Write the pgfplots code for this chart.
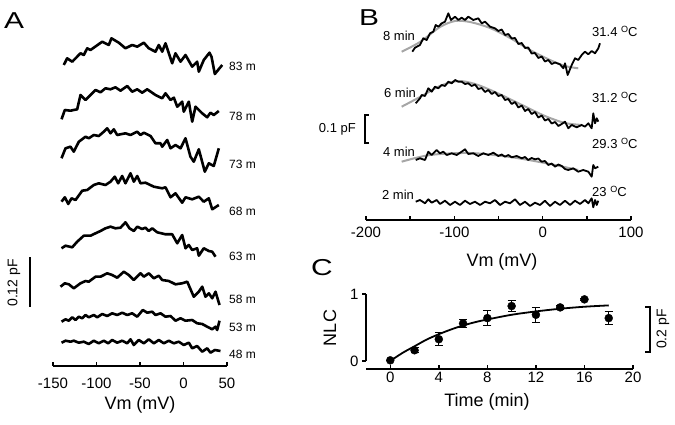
\documentclass[border=0pt]{standalone}
\usepackage{pgfplots}
\pgfplotsset{compat=1.18}
\usepackage{fontspec}
\setmainfont{Liberation Sans}
\newcommand{\fs}[1]{\fontsize{#1bp}{#1bp}\selectfont}
\newcommand{\degC}{{\fs{9}\raisebox{4bp}{O}}C}
\begin{document}
\begin{tikzpicture}
\path[use as bounding box] (0bp,0bp) rectangle (675bp,425bp);
\pgfplotsset{
  tr/.style={black, line width=2.6bp, line join=round, no marks},
  trb/.style={black, line width=1.8bp, line join=round, no marks},
  fit/.style={gray!70, line width=2bp, smooth, no marks},
}
% ---------------- Panel A ----------------
\begin{axis}[
  at={(53bp,59bp)}, anchor=south west, width=174bp, height=335bp, scale only axis,
  xmin=-150, xmax=50, ymin=0, ymax=335,
  axis x line=bottom, axis y line=none,
  axis line style={-, line width=1.6bp},
  xtick={-150,-100,-50,0,50}, xticklabels={-150,-100,-50,0,50},
  ytick=\empty,
  tick align=inside, major tick length=4bp,
  tick style={line width=1.6bp, black},
  xticklabel style={font=\fs{15}, yshift=-9bp},
  clip=false,
]
\addplot[tr] coordinates {(-137.6,301) (-133.7,307.7) (-127.9,304.3) (-118.4,312.7) (-114.6,311) (-110.7,317.7) (-106.9,316) (-93.4,324.3) (-85.9,321) (-82.8,327.7) (-74.4,323.3) (-66.7,317.7) (-59,321) (-53.2,319.3) (-45.6,323.3) (-39.9,317.7) (-32.2,314.3) (-28.4,321) (-24.5,314.3) (-20.7,322.7) (-13,302.7) (-9.2,312.7) (-3.4,304.3) (2.3,311) (10,299.3) (15.7,304.3) (17.6,294.3) (23.3,306) (29.9,313.3) (32.2,309.3) (36,292) (44.5,301)};
\addplot[tr] coordinates {(-140.2,246.7) (-136.4,256) (-129.9,255.3) (-122.2,256.7) (-118.4,271) (-112.6,266) (-101.1,276) (-95.4,273.7) (-89.7,277.7) (-83.9,276.7) (-78.2,278.7) (-72.4,275.3) (-64.7,280) (-59,274.3) (-53.2,276.7) (-47.5,273.3) (-41.7,276.7) (-32.2,271) (-24.5,267.7) (-20.7,272.7) (-14.9,266) (-11.1,268.3) (-7.2,259.3) (-1.5,264.3) (0.3,254.3) (6.1,264.3) (10,244.3) (13.8,259.3) (21.5,252.7) (27.2,248.7) (31,253.3) (34.8,251) (40.6,255)};
\addplot[tr] coordinates {(-140.2,207.7) (-135.6,217.7) (-129.9,219.3) (-126.1,214.3) (-120.3,224.3) (-112.6,229.3) (-108.9,227.7) (-103.1,231) (-97.4,230) (-91.6,234.3) (-87.7,237.7) (-83.9,232.7) (-80.1,236.7) (-76.2,231) (-66.7,232.7) (-60.9,231) (-53.2,234.3) (-49.4,231) (-45.6,233.3) (-37.9,230) (-32.2,222.7) (-26.4,222.7) (-24.5,219.3) (-18.7,226) (-14.9,217.7) (-9.2,221) (-3.4,217.7) (2.3,227.7) (8,209.3) (11.8,204.3) (17.6,216.7) (24.5,194.3) (29.1,202.7) (34.8,200) (40.6,217.7)};
\addplot[tr] coordinates {(-140.2,164.3) (-136.4,168.7) (-132.5,162) (-128.7,167.7) (-124.1,166) (-116.4,175.3) (-110.7,176) (-103.1,181) (-97.4,182.7) (-89.7,181) (-83.9,184.3) (-79,189.3) (-75.1,182.7) (-70.5,190) (-66.7,182.7) (-60.9,192.7) (-57.1,184.3) (-53.2,190) (-49.4,182.7) (-43.7,183.3) (-34.1,179.3) (-24.5,177.7) (-20.7,178.7) (-14.9,168.7) (-9.2,172.7) (-1.5,163.3) (2.3,168.7) (10,166.7) (17.6,169.3) (23.3,164.3) (29.1,167.7) (33,156.7) (40.6,161)};
\addplot[tr] coordinates {(-140.2,117.7) (-135.6,120.3) (-127.9,118.7) (-122.2,124.3) (-114.6,130.3) (-106.9,130.3) (-101.1,132.7) (-95.4,135) (-89.7,137.7) (-83.9,139.3) (-78.2,137.7) (-72.4,138.3) (-66.7,143.7) (-62.1,137.7) (-57.1,135) (-53.2,139.3) (-47.5,137) (-43.7,138.3) (-39.9,135) (-36,137.7) (-30.2,133.7) (-20.7,131.7) (-13,131.7) (-7.2,122.7) (-1.5,131) (2.3,117.7) (6.1,121) (10,116) (15.7,117.7) (17.6,110.3) (23.3,117.7) (29.1,115) (33,114.3) (36.8,109.3)};
\addplot[tr] coordinates {(-141.4,79.3) (-136.4,82.7) (-131.8,81.7) (-126.1,77.7) (-118.4,82.7) (-112.6,85) (-108.9,84.3) (-101.1,89.3) (-95.4,89.3) (-87.7,92.7) (-82,91) (-76.2,88.3) (-68.6,94.3) (-62.9,91) (-57.1,86) (-49.4,92.7) (-45.6,89.3) (-39.9,92.7) (-34.1,87.7) (-28.4,90.3) (-24.5,86) (-16.9,85) (-9.2,81.7) (-1.5,82.7) (4.3,84.3) (11.8,69.3) (17.6,74.3) (21.5,79.3) (25.3,69.3) (29.1,72.7) (33,67.7) (36.8,74.3) (41.4,61)};
\addplot[tr] coordinates {(-140.2,44.3) (-135.6,46.7) (-131.8,45.3) (-127.9,48.7) (-124.1,46) (-120.3,49.3) (-116.4,47.7) (-112.6,51) (-108.9,48.7) (-103.1,51) (-99.2,48.7) (-93.4,52) (-87.7,50) (-82,52.7) (-76.2,51) (-70.5,53.3) (-64.7,51) (-59,52.7) (-53.2,49.3) (-46.8,56) (-41.7,53.3) (-36,54.3) (-32.2,51) (-26.4,52.7) (-20.7,49.3) (-14.9,50) (-9.2,45.3) (-3.4,47.7) (2.3,45.3) (10,46) (15.7,42.7) (21.5,42) (27.2,39.3) (33,36.7) (36.8,39.3) (38.7,36) (41.4,45.3)};
\addplot[tr] coordinates {(-140.2,23.3) (-135.6,25.3) (-129.9,24.3) (-126.1,25.3) (-120.3,23.3) (-114.6,24.3) (-108.9,22) (-103.1,25.3) (-97.4,22.7) (-91.6,25.3) (-86.6,22.7) (-82,26) (-76.2,23.3) (-70.5,25.3) (-64.7,22.7) (-60.9,26.7) (-57.1,21) (-51.4,26) (-45.6,22.7) (-39.9,26.7) (-34.1,22.7) (-28.4,26) (-22.6,22.7) (-16.9,25.3) (-11.1,22.7) (-5.4,24.3) (0.3,21) (6.1,23.3) (10,17.7) (15.7,20) (21.5,14.3) (27.2,17.7) (31,13.3) (36,16) (42.5,15)};
\end{axis}
% ---------------- Panel B ----------------
\begin{axis}[
  at={(366bp,205bp)}, anchor=south west, width=265bp, height=210bp, scale only axis,
  xmin=-200, xmax=100, ymin=0, ymax=210,
  axis x line=bottom, axis y line=none,
  axis line style={-, line width=1.5bp},
  xtick={-200,-100,0,100}, xticklabels={-200,-100,0,100},
  minor xtick={-150,-50,50},
  ytick=\empty,
  tick align=inside, major tick length=4bp, minor tick length=4bp,
  tick style={line width=1.5bp, black},
  xticklabel style={font=\fs{15}, yshift=-4bp},
  clip=false,
]
\addplot[fit] coordinates {(-159.6,168.3) (-138.9,178) (-116.2,193) (-99.2,199) (-82.2,198) (-59.6,192) (-36.9,182) (-14.3,170) (8.3,160) (25.3,154) (40.3,151.7)};
\addplot[fit] coordinates {(-159.6,113.3) (-138.9,123) (-116.2,134) (-95.8,139) (-76.6,136) (-54,128) (-25.7,116) (2.6,104) (25.3,97) (44.5,95)};
\addplot[fit] coordinates {(-159.6,58.3) (-127.5,65) (-82.3,67) (-37,63) (2.6,57) (40.3,50)};
\addplot[trb] coordinates {(-147.6,168.3) (-144.5,172.3) (-138.9,175) (-135.1,181.7) (-131.3,180) (-127.5,186.7) (-123.8,188.3) (-121.1,195) (-118.1,193.3) (-114.3,196.7) (-110.6,198.3) (-106.8,206.7) (-103.8,200) (-99.2,203.3) (-95.5,200) (-91.7,202.3) (-87.9,200) (-84.2,203.3) (-78.5,200) (-72.9,201.7) (-69,196.7) (-65.3,198.3) (-59.6,193.3) (-54,191.7) (-50.2,189) (-46.4,190.5) (-42.6,185) (-38.9,186) (-35,181.5) (-31.3,182) (-27.5,176) (-23.7,177) (-20,172) (-16.3,172.5) (-12.5,166.5) (-8.7,167) (-4.9,162) (-1.1,163.5) (2.6,158.5) (6.4,160) (10.2,156) (14,157.5) (19.6,155.7) (23.4,151.7) (25.3,156.7) (28.3,145) (32.9,155) (36.6,161.7) (40.3,160) (44.2,165) (47.9,168.3) (51.7,165.7) (55.5,169) (59.3,166.7) (63,171.7) (64.9,176.7)};
\addplot[trb] coordinates {(-143.7,116.7) (-138.9,121.7) (-136.9,125) (-133.2,124) (-129.5,131.7) (-125.6,128.3) (-121.9,133.3) (-118.1,131.7) (-114.3,135) (-110.6,134) (-106.8,138.3) (-103,136.7) (-99.2,140) (-95.5,138.3) (-91.7,138.3) (-87.9,136) (-84.2,136.7) (-80.4,134) (-76.6,135.5) (-72.8,131) (-69,132) (-65.2,128) (-61.5,130) (-57.7,126) (-54,128) (-50.2,124) (-46.4,125) (-42.6,120) (-38.9,121) (-35.1,116) (-31.3,118) (-27.5,112.5) (-23.7,114.5) (-20,109) (-16.3,111) (-12.5,106) (-8.7,108) (-4.9,102.5) (-1.1,104.5) (2.6,99.5) (6.4,101) (10.2,96.5) (14,98) (17.8,94) (21.6,96) (25.3,98.3) (29,91.7) (32.9,95) (38.5,92.7) (44.2,95) (47.9,93.3) (51.7,96.7) (55.5,91.7) (57.3,106.7) (59.3,96.7) (61.2,101.7) (63,98.3)};
\addplot[trb] coordinates {(-143.7,60) (-138.9,61.7) (-133.2,60) (-129.5,68.3) (-125.6,65) (-120,70) (-116.2,66.7) (-112.5,68.3) (-108.6,65) (-103,66.7) (-97.3,65) (-91.7,68.3) (-87.9,70.7) (-84.2,66) (-78.5,66.7) (-72.9,64) (-67.2,66.7) (-61.5,65) (-55.9,67.3) (-50.2,64) (-46.4,65.5) (-42.6,63.3) (-38.9,65) (-35.1,62.7) (-29.4,64) (-23.7,61.7) (-20,63) (-16.3,60) (-12.5,62) (-8.7,60.7) (-4.9,61.5) (-1.1,58.3) (2.6,59) (6.4,55) (10.2,56.5) (14,53.3) (17.8,55.5) (21.6,54) (25.3,51) (29,50) (34.6,51.7) (40.3,48.3) (46,50) (51.7,48.3) (55.5,43.3) (57.3,55) (59.3,51.7) (63,53.3)};
\addplot[trb] coordinates {(-143.7,18.3) (-138.9,20) (-133.2,16.7) (-129.5,20.7) (-125.6,17.3) (-120,20) (-116.2,16) (-110.6,19.3) (-104.9,15) (-99.2,18.3) (-93.6,15) (-87.9,19.3) (-82.3,16) (-76.6,18.3) (-70.9,15) (-65.3,18.3) (-59.6,16.7) (-54,20) (-48.3,15) (-42.6,18.3) (-37,16.7) (-31.3,20.7) (-25.7,15) (-20,18.3) (-14.3,14) (-8.7,17.3) (-3,15) (2.6,19.3) (8.3,14) (14,18.3) (19.6,15) (25.3,19.3) (31,15) (36.6,19.3) (42.3,16) (47.9,20) (51.7,16.7) (55.5,21.7) (57.3,12.7) (59.3,20) (61.2,15) (63,19.3)};
\end{axis}
% ---------------- Panel C ----------------
\begin{axis}[
  at={(366bp,64bp)}, anchor=south west, width=267bp, height=67bp, scale only axis,
  xmin=-2, xmax=20, ymin=0, ymax=1,
  axis x line=bottom, axis y line=left, axis x line shift=8bp,
  axis line style={-, line width=1.4bp},
  xtick={0,4,8,12,16,20}, xticklabels={0,4,8,12,16,20},
  ytick={0,1}, yticklabels={0,1},
  xtick align=inside, ytick align=outside, major tick length=4bp,
  tick style={line width=1.4bp, black},
  xticklabel style={font=\fs{15}, yshift=0bp},
  yticklabel style={font=\fs{15}},
  clip=false,
]
\addplot[black, line width=1.8bp, smooth, no marks] coordinates {(0,0) (1,0.12) (2,0.22) (3,0.32) (4,0.40) (5,0.47) (6,0.53) (7,0.58) (8,0.62) (10,0.69) (12,0.74) (14,0.78) (16,0.81) (18,0.83)};
\addplot[black, only marks, mark=*, mark size=4bp,
  error bars/.cd, y dir=both, y explicit,
  error bar style={line width=1bp},
  error mark options={line width=1bp, mark size=4bp, rotate=90}]
  coordinates {(0,0.01) +- (0,0) (2,0.16) +- (0,0.04) (4,0.325) +- (0,0.095) (6,0.56) +- (0,0.06) (8,0.64) +- (0,0.11) (10,0.82) +- (0,0.08) (12,0.69) +- (0,0.11) (14,0.80) +- (0,0.03) (16,0.92) +- (0,0.02) (18,0.64) +- (0,0.10)};
\end{axis}
% ---------------- annotations ----------------
\node[font=\fs{23}, xscale=1.3] at (14bp,404bp) {A};
\node[font=\fs{23}, xscale=1.3] at (369bp,407bp) {B};
\node[font=\fs{23}, xscale=1.3] at (322bp,157bp) {C};
\node[font=\fs{18}] at (140bp,20bp) {Vm (mV)};
\node[font=\fs{18}] at (502bp,163bp) {Vm (mV)};
\node[font=\fs{18}] at (487bp,23bp) {Time (min)};
\node[font=\fs{18}, rotate=90] at (330bp,97bp) {NLC};
% trace labels A
\foreach \t/\yy in {83 m/359, 78 m/309, 73 m/261, 68 m/214, 63 m/169, 58 m/126, 53 m/98, 48 m/71}
  \node[font=\fs{12}, anchor=west, inner sep=0pt] at (229bp,\yy bp) {\t};
% scale bar A
\draw[line width=2.8bp] (30bp,118bp) -- (30bp,168bp);
\node[font=\fs{14}, rotate=90] at (14bp,142bp) {0.12 pF};
% trace labels B
\node[font=\fs{13}] at (399bp,389bp) {8 min};
\node[font=\fs{13}] at (400bp,332bp) {6 min};
\node[font=\fs{13}] at (399bp,273bp) {4 min};
\node[font=\fs{13}] at (398bp,230bp) {2 min};
\node[font=\fs{13}, anchor=west, inner sep=0pt] at (592bp,394bp) {31.4 \degC};
\node[font=\fs{13}, anchor=west, inner sep=0pt] at (592bp,328bp) {31.2 \degC};
\node[font=\fs{13}, anchor=west, inner sep=0pt] at (592bp,282bp) {29.3 \degC};
\node[font=\fs{13}, anchor=west, inner sep=0pt] at (592bp,234bp) {23 \degC};
% scale bar B
\draw[line width=1.6bp] (369bp,282bp) -- (365bp,282bp) -- (365bp,310bp) -- (369bp,310bp);
\node[font=\fs{13}, anchor=east, inner sep=0pt] at (356bp,296bp) {0.1 pF};
% scale bar C
\draw[line width=1.3bp] (645bp,73bp) -- (650bp,73bp) -- (650bp,118bp) -- (645bp,118bp);
\node[font=\fs{14}, rotate=90] at (663bp,96bp) {0.2 pF};
\end{tikzpicture}
\end{document}
